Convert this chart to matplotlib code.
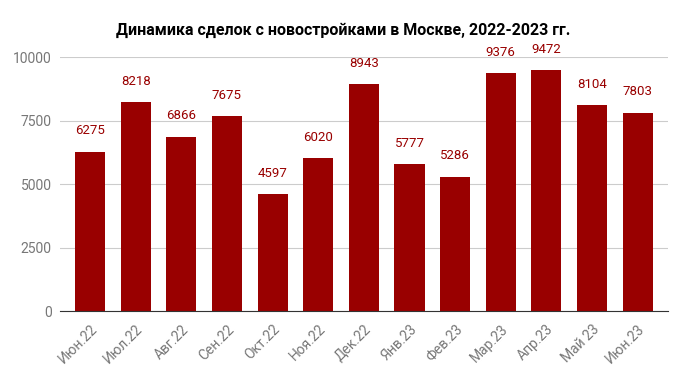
import matplotlib
matplotlib.use("Agg")
import matplotlib.pyplot as plt

plt.rcParams['font.family'] = ['Roboto', 'DejaVu Sans']

# Данные
mesyacy = ['Июн.22', 'Июл.22', 'Авг.22', 'Сен.22', 'Окт.22', 'Ноя.22', 'Дек.22',
           'Янв.23', 'Фев.23', 'Мар.23', 'Апр.23', 'Май 23', 'Июн.23']
sdelki = [6275, 8218, 6866, 7675, 4597, 6020, 8943, 5777, 5286, 9376, 9472, 8104, 7803]
yticks = [0, 2500, 5000, 7500, 10000]

COLOR = '#990000'

fig = plt.figure(figsize=(6.87, 3.71), dpi=100)
ax = fig.add_axes([0.0873, 0.1617, 0.8847, 0.6846])

x = range(len(sdelki))
ax.bar(x, sdelki, width=0.66, color=COLOR, zorder=3)

for xi, v in zip(x, sdelki):
    ax.annotate(str(v), (xi, v), xytext=(0, 15), textcoords='offset points',
                ha='center', va='center', color=COLOR, fontsize=9.5,
                annotation_clip=False)

ax.set_xlim(-0.66, len(sdelki) - 1 + 0.66)
ax.set_ylim(0, 10000)
ax.set_yticks(yticks)
ax.set_yticklabels([str(t) for t in yticks], color='#777777', fontsize=10)
ax.set_xticks(list(x))
ax.set_xticklabels(mesyacy, rotation=45, ha='right', rotation_mode='anchor',
                   color='#777777', fontsize=10)
ax.tick_params(length=0, pad=6)
ax.tick_params(axis='x', pad=8)

ax.grid(axis='y', color='#cccccc', linewidth=0.8, zorder=0)
for s in ['top', 'right', 'left']:
    ax.spines[s].set_visible(False)
ax.spines['bottom'].set_color('#333333')
ax.spines['bottom'].set_zorder(4)

fig.text(0.5, 0.918, 'Динамика сделок с новостройками в Москве, 2022-2023 гг.',
         ha='center', va='center', fontsize=11.5, fontweight='bold', color='black')

plt.savefig('out.png', dpi=100)
